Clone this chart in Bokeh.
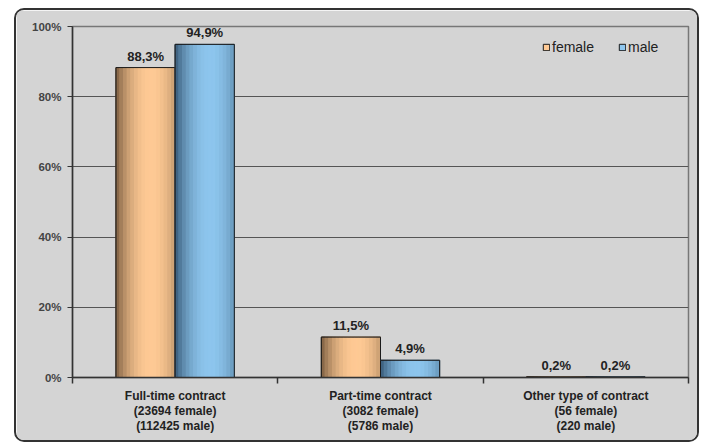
from bokeh.plotting import figure
from bokeh.models import (Range1d, FixedTicker, CustomJSTickFormatter, PrintfTickFormatter,
                          Legend, LegendItem, ColumnDataSource)
from bokeh.embed import file_html
from bokeh.resources import INLINE
from bokeh.core.properties import value

# ---- data ----
categories = ["Full-time contract\n(23694 female)\n(112425 male)",
              "Part-time contract\n(3082 female)\n(5786 male)",
              "Other type of contract\n(56 female)\n(220 male)"]
female = [88.3, 11.5, 0.2]
male = [94.9, 4.9, 0.2]
y_ticks = [0, 20, 40, 60, 80, 100]

FONT = "Liberation Sans"

p = figure(width=685, height=434, output_backend="svg", toolbar_location=None,
           x_range=Range1d(0, 3), y_range=Range1d(0, 100),
           min_border_left=56, min_border_right=13, min_border_top=16, min_border_bottom=67,
           background_fill_color="#d4d4d4", border_fill_color="#d4d4d4")
p.styles = {"margin-left": "14px", "margin-top": "8px", "border": "2px solid #333",
            "border-radius": "10px", "overflow": "hidden"}

p.outline_line_color = "#777777"
p.outline_line_width = 1.5
p.xgrid.grid_line_color = None
p.ygrid.grid_line_color = "#555555"
p.ygrid.grid_line_width = 1.2

# axes
p.yaxis.ticker = FixedTicker(ticks=y_ticks)
p.yaxis.formatter = PrintfTickFormatter(format="%d%%")
p.yaxis.axis_line_color = "#333333"
p.yaxis.axis_line_width = 1.5
p.yaxis.major_tick_out = 5
p.yaxis.major_tick_in = 0
p.yaxis.major_tick_line_color = "#333333"
p.yaxis.minor_tick_line_color = None
p.yaxis.major_label_text_font = FONT
p.yaxis.major_label_text_font_style = "bold"
p.yaxis.major_label_text_font_size = "11.5px"
p.yaxis.major_label_text_color = "#444444"
p.yaxis.major_label_standoff = 6

n = len(categories)
p.xaxis.ticker = FixedTicker(ticks=[i + 0.5 for i in range(n)], minor_ticks=list(range(n + 1)))
p.xaxis.formatter = CustomJSTickFormatter(args=dict(labels=categories),
                                          code="return labels[Math.floor(tick)] || '';")
p.xaxis.axis_line_color = "#333333"
p.xaxis.axis_line_width = 1.5
p.xaxis.major_tick_line_color = None
p.xaxis.minor_tick_line_color = "#333333"
p.xaxis.minor_tick_line_width = 1.5
p.xaxis.minor_tick_out = 6
p.xaxis.minor_tick_in = 0
p.xaxis.major_label_text_font = FONT
p.xaxis.major_label_text_font_style = "bold"
p.xaxis.major_label_text_font_size = "12px"
p.xaxis.major_label_text_color = "#222222"
p.xaxis.major_label_text_line_height = 1.1
p.xaxis.major_label_standoff = 5

# ---- bars with cylinder-like shading ----
bw = 0.288
series = [
    ("female", female, -bw / 2, (0x6e, 0x52, 0x38), (0xff, 0xca, 0x95)),
    ("male", male, bw / 2, (0x2e, 0x4e, 0x6a), (0x8e, 0xc6, 0xee)),
]
NSTRIP = 16
legend_items = []
for name, vals, off, dark, light in series:
    xs = [i + 0.5 + off for i in range(n)]
    src = ColumnDataSource(dict(x=xs, top=vals,
                                lab=[("%.1f%%" % v).replace(".", ",") for v in vals]))
    hexlight = "#%02x%02x%02x" % light
    base = p.vbar(x="x", top="top", width=bw, source=src, fill_color=hexlight,
                  line_color="#1a1a1a", line_width=1)
    sw = bw / NSTRIP
    for j in range(NSTRIP):
        t = (j + 0.5) / NSTRIP
        s = max(0.0, 1 - ((t - 0.6) / 0.62) ** 2 * 1.0)
        s = s ** 0.9
        c = tuple(int(dark[k] + (light[k] - dark[k]) * s) for k in range(3))
        col = "#%02x%02x%02x" % c
        sx = [x - bw / 2 + sw * (j + 0.5) for x in xs]
        p.vbar(x=sx, top=vals, width=sw, fill_color=col, line_color=col, line_width=1)
    p.vbar(x="x", top="top", width=bw, source=src, fill_color=None,
           line_color="#1a1a1a", line_width=1)
    p.text(x="x", y="top", text="lab", source=src, text_align="center",
           text_baseline="bottom", y_offset=-4, text_font=value(FONT),
           text_font_style="bold", text_font_size="13px", text_color="#222222")
    legend_items.append(LegendItem(label=name, renderers=[base]))

legend = Legend(items=legend_items, location=(470, 322), orientation="horizontal",
                background_fill_alpha=0, border_line_color=None,
                glyph_width=8, glyph_height=8, label_text_font=FONT,
                label_text_font_size="14px", label_text_color="#222222",
                spacing=24, margin=16, padding=6, label_standoff=2)
p.add_layout(legend)

open("out.html", "w").write(file_html(p, INLINE))
